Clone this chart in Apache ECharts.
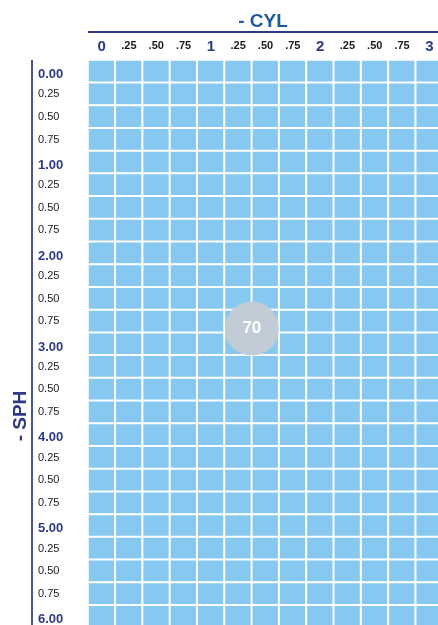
<!DOCTYPE html>
<html>
<head>
<meta charset="utf-8">
<script src="https://cdn.jsdelivr.net/npm/echarts@6/dist/echarts.min.js"></script>
<style>
  html, body { margin: 0; padding: 0; background: #fff; overflow: hidden; }
  #chart { width: 443px; height: 628px; }
</style>
</head>
<body>
<div id="chart"></div>
<script>
// columns: -CYL, rows: -SPH
var cylLabels = ['0', '.25', '.50', '.75', '1', '.25', '.50', '.75', '2', '.25', '.50', '.75', '3'];
var sphLabels = ['0.00', '0.25', '0.50', '0.75', '1.00', '0.25', '0.50', '0.75', '2.00', '0.25', '0.50', '0.75',
  '3.00', '0.25', '0.50', '0.75', '4.00', '0.25', '0.50', '0.75', '5.00', '0.25', '0.50', '0.75', '6.00'];
// the one marked lens: [cyl, sph, count]
var bubble = [[1.375, 2.83, 70]];

var cells = [];
for (var i = 0; i < cylLabels.length; i++) {
  for (var j = 0; j < sphLabels.length; j++) {
    cells.push([i, j, 1]);
  }
}

var navy = '#2e3a87';
var chart = echarts.init(document.getElementById('chart'));
var option = {
  animation: false,
  textStyle: { fontFamily: 'Liberation Sans, Arial, sans-serif' },
  grid: { left: 88, top: 60, right: 0, bottom: 0 },
  xAxis: [{
    type: 'category',
    position: 'top',
    data: cylLabels,
    axisLine: { show: false },
    axisTick: { show: false },
    splitLine: { show: false },
    axisLabel: {
      margin: 6,
      interval: 0,
      formatter: function (v) {
        return v.charAt(0) === '.' ? '{s|' + v + '}' : '{b|' + v + '}';
      },
      rich: {
        b: { fontSize: 15, fontWeight: 'bold', color: navy },
        s: { fontSize: 11, fontWeight: 'bold', color: '#1a1a1a', padding: [0, 0, 3, 0] }
      }
    }
  }, {
    type: 'value', show: false, min: -0.125, max: 3.125
  }],
  yAxis: [{
    type: 'category',
    inverse: true,
    data: sphLabels,
    axisLine: { show: false },
    axisTick: { show: false },
    splitLine: { show: false },
    axisLabel: {
      interval: 0,
      align: 'left',
      margin: 50,
      formatter: function (v, idx) {
        return idx % 4 === 0 ? '{b|' + v + '}' : '{s|' + v + '}';
      },
      rich: {
        b: { fontSize: 13, fontWeight: 'bold', color: navy, padding: [6, 0, 0, 0] },
        s: { fontSize: 11, color: '#1a1a1a' }
      }
    }
  }, {
    type: 'value', show: false, inverse: true, min: -0.125, max: 6.125
  }],
  graphic: [
    { type: 'line', shape: { x1: 88, y1: 32, x2: 443, y2: 32 }, style: { stroke: navy, lineWidth: 2 } },
    { type: 'line', shape: { x1: 32, y1: 60, x2: 32, y2: 628 }, style: { stroke: '#4a5590', lineWidth: 2 } },
    { type: 'text', x: 263, y: 22, style: { text: '- CYL', fill: '#1f5a9c', font: 'bold 19px Liberation Sans, Arial, sans-serif', textAlign: 'center', textVerticalAlign: 'middle' } },
    { type: 'text', x: 21, y: 416, rotation: Math.PI / 2, style: { text: '- SPH', fill: navy, font: 'bold 19px Liberation Sans, Arial, sans-serif', textAlign: 'center', textVerticalAlign: 'middle' } }
  ],
  series: [{
    type: 'heatmap',
    data: cells,
    itemStyle: { color: '#86c8f0', borderColor: '#ffffff', borderWidth: 2 },
    emphasis: { disabled: true }
  }, {
    type: 'scatter',
    xAxisIndex: 1,
    yAxisIndex: 1,
    data: bubble,
    symbolSize: 54,
    itemStyle: { color: '#c1ccd6', opacity: 1 },
    label: {
      show: true,
      position: 'inside',
      formatter: function (p) { return p.value[2]; },
      color: '#ffffff',
      fontSize: 17,
      fontWeight: 'bold'
    }
  }]
};
chart.setOption(option);
</script>
</body>
</html>
